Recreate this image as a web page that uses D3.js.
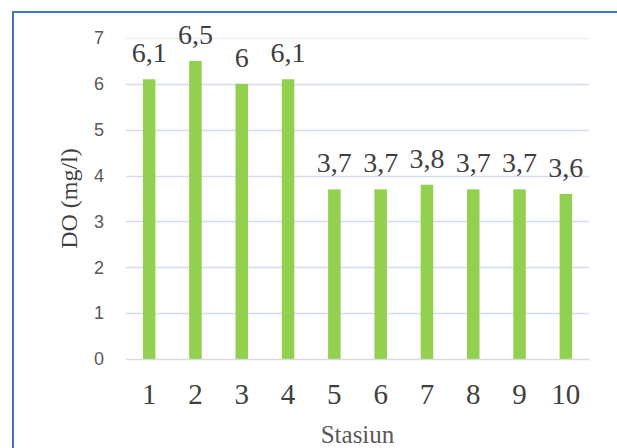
<!DOCTYPE html>
<html>
<head>
<meta charset="utf-8">
<script src="https://cdn.jsdelivr.net/npm/d3@7"></script>
<style>
  html, body { margin: 0; padding: 0; background: #ffffff; }
  svg { display: block; }
</style>
</head>
<body>
<svg id="chart" width="617" height="448"></svg>
<script>
// Dissolved oxygen per sampling station
const stations = ["1", "2", "3", "4", "5", "6", "7", "8", "9", "10"];
const doValues = [6.1, 6.5, 6.0, 6.1, 3.7, 3.7, 3.8, 3.7, 3.7, 3.6];
const doLabels = ["6,1", "6,5", "6", "6,1", "3,7", "3,7", "3,8", "3,7", "3,7", "3,6"];
const yTicks = [0, 1, 2, 3, 4, 5, 6, 7];

const svg = d3.select("#chart");
const W = 617, H = 448;
const plot = { left: 126, right: 589, top: 38, bottom: 359 };

// outer frame
svg.append("rect")
  .attr("x", 13).attr("y", 12)
  .attr("width", W).attr("height", H)
  .attr("fill", "none")
  .attr("stroke", "#4472C4")
  .attr("stroke-width", 2);

const x = d3.scaleBand()
  .domain(stations)
  .range([plot.left, plot.right])
  .paddingInner(0.73)
  .paddingOuter(0.365);

const y = d3.scaleLinear()
  .domain([0, 7])
  .range([plot.bottom, plot.top]);

// horizontal gridlines
svg.append("g")
  .selectAll("line")
  .data(yTicks.filter(d => d > 0))
  .join("line")
  .attr("x1", plot.left).attr("x2", plot.right)
  .attr("y1", d => Math.round(y(d)) + 0.5)
  .attr("y2", d => Math.round(y(d)) + 0.5)
  .attr("stroke", d => d === 7 ? "#EDF0F8" : "#D3DCF0")
  .attr("stroke-width", 1.5);

// y axis labels
const yAxis = d3.axisLeft(y).tickValues(yTicks).tickFormat(d3.format("d"))
  .tickSize(0).tickPadding(22);
svg.append("g")
  .attr("transform", `translate(${plot.left},0)`)
  .call(yAxis)
  .call(g => g.select(".domain").remove())
  .call(g => g.selectAll("text")
    .attr("fill", "#595959")
    .attr("font-family", "'Liberation Sans', Arial, sans-serif")
    .attr("font-size", 18));

// bars
svg.append("g")
  .selectAll("rect")
  .data(doValues)
  .join("rect")
  .attr("x", (d, i) => x(stations[i]))
  .attr("y", d => y(d))
  .attr("width", x.bandwidth())
  .attr("height", d => y(0) - y(d))
  .attr("fill", "#92D050");

// baseline
svg.append("line")
  .attr("x1", plot.left).attr("x2", plot.right)
  .attr("y1", y(0) + 0.5).attr("y2", y(0) + 0.5)
  .attr("stroke", "#D9D9D9")
  .attr("stroke-width", 1.5);

// value labels
svg.append("g")
  .selectAll("text")
  .data(doValues)
  .join("text")
  .attr("x", (d, i) => x(stations[i]) + x.bandwidth() / 2)
  .attr("y", d => y(d) - 17)
  .attr("text-anchor", "middle")
  .attr("fill", "#404040")
  .attr("font-family", "'Liberation Serif', 'Times New Roman', serif")
  .attr("font-size", 28)
  .text((d, i) => doLabels[i]);

// x axis labels
const xAxis = d3.axisBottom(x).tickSize(0).tickPadding(24);
svg.append("g")
  .attr("transform", `translate(0,${plot.bottom})`)
  .call(xAxis)
  .call(g => g.select(".domain").remove())
  .call(g => g.selectAll("text")
    .attr("fill", "#404040")
    .attr("font-family", "'Liberation Serif', 'Times New Roman', serif")
    .attr("font-size", 29));

// axis titles
svg.append("text")
  .attr("x", (plot.left + plot.right) / 2)
  .attr("y", 443)
  .attr("text-anchor", "middle")
  .attr("fill", "#595959")
  .attr("font-family", "'Liberation Serif', 'Times New Roman', serif")
  .attr("font-size", 25)
  .text("Stasiun");

svg.append("text")
  .attr("transform", `translate(77,${(plot.top + plot.bottom) / 2}) rotate(-90)`)
  .attr("text-anchor", "middle")
  .attr("fill", "#404040")
  .attr("font-family", "'Liberation Serif', 'Times New Roman', serif")
  .attr("font-size", 24)
  .text("DO (mg/l)");
</script>
</body>
</html>
